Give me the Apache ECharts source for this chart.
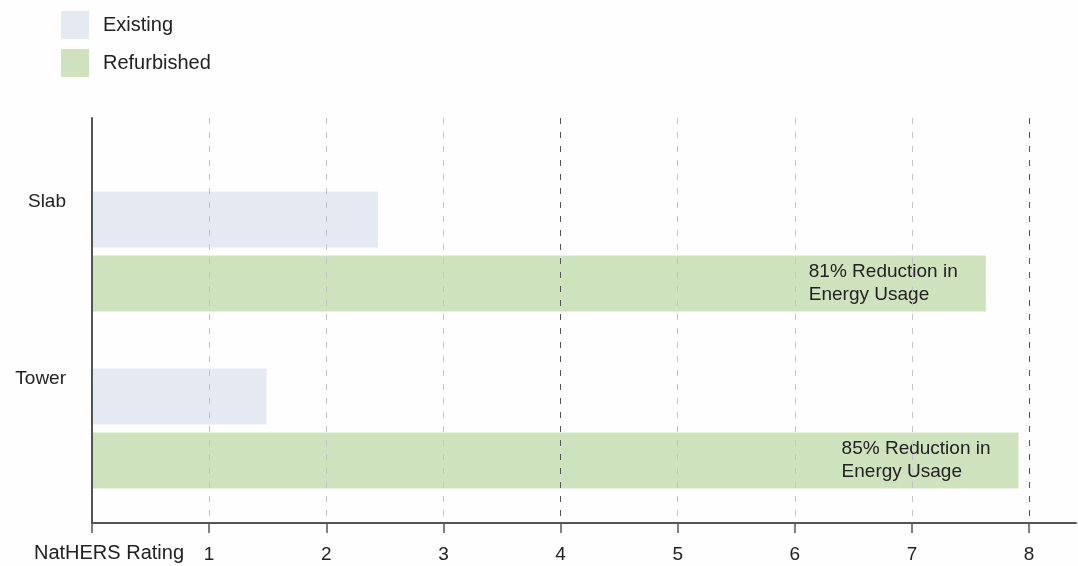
<!DOCTYPE html>
<html>
<head>
<meta charset="utf-8">
<title>NatHERS Rating</title>
<script src="https://cdn.jsdelivr.net/npm/echarts@6/dist/echarts.min.js"></script>
<style>
  html, body { margin: 0; padding: 0; background: #fefefe; }
  #chart { width: 1078px; height: 566px; }
</style>
</head>
<body>
<div id="chart"></div>
<script>
// Building types, top to bottom
const categories = ['Slab', 'Tower'];
// NatHERS star ratings
const existing = [2.44, 1.49];
const refurbished = [7.63, 7.91];
const refurbishedNotes = ['81% Reduction in\nEnergy Usage', '85% Reduction in\nEnergy Usage'];
const seriesNames = ['Existing', 'Refurbished'];
const tickValues = [0, 1, 2, 3, 4, 5, 6, 7, 8];
const tickLabels = [1, 2, 3, 4, 5, 6, 7, 8];
const axisTitle = 'NatHERS Rating';

const FONT = 'Liberation Sans, Arial, sans-serif';
const TEXT = '#222';
const AXIS = '#555';
const X_MAX = 8.4;

const chart = echarts.init(document.getElementById('chart'), null, { renderer: 'canvas' });

chart.setOption({
  backgroundColor: '#fefefe',
  textStyle: { fontFamily: FONT },
  animation: false,
  legend: {
    orient: 'vertical',
    left: 61,
    top: 11,
    padding: 0,
    itemWidth: 28,
    itemHeight: 28,
    itemGap: 10,
    icon: 'rect',
    data: seriesNames,
    textStyle: { fontSize: 20, color: TEXT, fontFamily: FONT, padding: [0, 0, 0, 9] }
  },
  grid: [
    // frame: axis lines, ticks and dashed guides
    { left: 92, right: 2, top: 118, bottom: 43, outerBoundsMode: 'none', containLabel: false },
    // bars
    { left: 92, right: 2, top: 163, bottom: 49, outerBoundsMode: 'none', containLabel: false }
  ],
  xAxis: [
    {
      gridIndex: 0,
      type: 'value',
      min: 0,
      max: X_MAX,
      interval: 1,
      z: 5,
      name: axisTitle,
      nameLocation: 'start',
      nameGap: -92,
      nameTextStyle: {
        fontSize: 20, color: TEXT, fontFamily: FONT,
        verticalAlign: 'top', padding: [20, 0, 0, 0]
      },
      axisLine: { show: true, lineStyle: { color: AXIS, width: 2 } },
      axisTick: { show: true, customValues: tickValues, length: 10, lineStyle: { color: AXIS, width: 1.5 } },
      axisLabel: { customValues: tickLabels, fontSize: 19, color: TEXT, fontFamily: FONT, margin: 22 },
      splitLine: {
        show: true,
        showMaxLine: true,
        lineStyle: {
          color: ['#555', '#c4c4c4', '#c4c4c4', '#c4c4c4'],
          width: 1,
          type: [6, 8]
        }
      }
    },
    {
      gridIndex: 1,
      type: 'value',
      min: 0,
      max: X_MAX,
      show: false
    }
  ],
  yAxis: [
    {
      gridIndex: 0,
      type: 'value',
      min: 0,
      max: 1,
      z: 5,
      axisLine: { show: true, lineStyle: { color: AXIS, width: 2 } },
      axisTick: { show: false },
      axisLabel: { show: false },
      splitLine: { show: false }
    },
    {
      gridIndex: 1,
      type: 'category',
      data: categories,
      inverse: true,
      axisLine: { show: false },
      axisTick: { show: false },
      axisLabel: {
        fontSize: 19, color: TEXT, fontFamily: FONT, margin: 26,
        lineHeight: 25,
        // sits the name level with the upper bar of each pair
        formatter: v => v + '\n \n \n \n '
      },
      splitLine: { show: false }
    }
  ],
  series: [
    {
      name: seriesNames[0],
      type: 'bar',
      xAxisIndex: 1,
      yAxisIndex: 1,
      z: 2,
      barWidth: 56,
      barGap: '14%',
      itemStyle: { color: '#e4e9f2' },
      data: existing
    },
    {
      name: seriesNames[1],
      type: 'bar',
      xAxisIndex: 1,
      yAxisIndex: 1,
      z: 2,
      barWidth: 56,
      barGap: '14%',
      itemStyle: { color: '#cee3bd' },
      data: refurbished,
      label: {
        show: true,
        position: ['100%', '50%'],
        offset: [-177, 0],
        align: 'left',
        verticalAlign: 'middle',
        fontSize: 19,
        lineHeight: 23,
        color: TEXT,
        fontFamily: FONT,
        formatter: p => refurbishedNotes[p.dataIndex]
      }
    }
  ]
});
</script>
</body>
</html>
